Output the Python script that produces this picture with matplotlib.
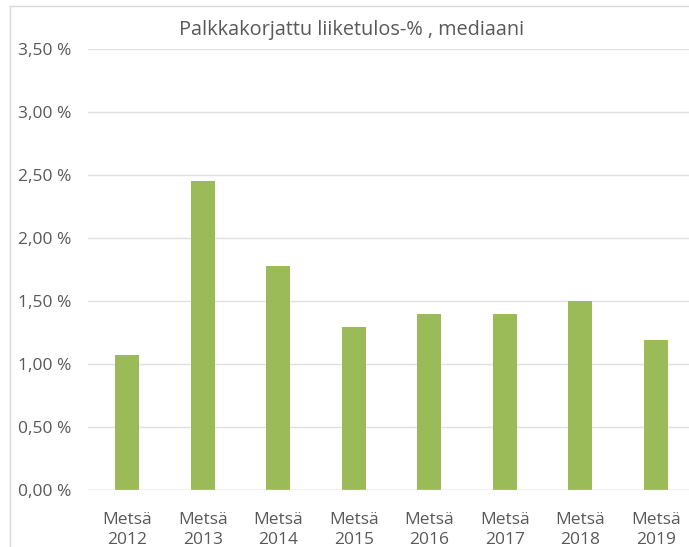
import matplotlib.pyplot as plt
from matplotlib.lines import Line2D
from matplotlib.ticker import FuncFormatter

# Tiedot
categories = ['Metsä\n2012', 'Metsä\n2013', 'Metsä\n2014', 'Metsä\n2015',
              'Metsä\n2016', 'Metsä\n2017', 'Metsä\n2018', 'Metsä\n2019']
values = [1.07, 2.45, 1.78, 1.29, 1.40, 1.40, 1.50, 1.19]
yticks = [0, 0.5, 1.0, 1.5, 2.0, 2.5, 3.0, 3.5]

plt.rcParams['font.family'] = ['Open Sans', 'DejaVu Sans']

fig = plt.figure(figsize=(6.89, 5.47), dpi=100)
ax = fig.add_axes([88 / 689, 1 - 490 / 547, 1 - 88 / 689, (490 - 49) / 547])

x = range(len(values))
ax.bar(x, values, width=0.32, color='#9bbb59', zorder=3)

ax.set_ylim(0, 3.5)
ax.set_xlim(-0.52, 7.44)
ax.set_yticks(yticks)
ax.yaxis.set_major_formatter(FuncFormatter(lambda v, p: f'{v:.2f} %'.replace('.', ',')))
ax.set_xticks(list(x))
ax.set_xticklabels(categories, linespacing=1.35)
ax.tick_params(axis='both', length=0, colors='#595959', labelsize=12.5)
ax.tick_params(axis='y', pad=12)
ax.tick_params(axis='x', pad=16)
ax.grid(axis='y', color='#e0e0e0', linewidth=1, zorder=0)
for s in ax.spines.values():
    s.set_visible(False)
ax.axhline(0, color='#d9d9d9', linewidth=1, zorder=4)

fig.text(352 / 689, 1 - 30 / 547, 'Palkkakorjattu liiketulos-% , mediaani',
         ha='center', va='center', fontsize=14.3, color='#595959')

# Kaavion reunat
fig.add_artist(Line2D([10 / 689, 10 / 689], [0, 1 - 6 / 547], transform=fig.transFigure,
                      color='#d9d9d9', linewidth=1))
fig.add_artist(Line2D([10 / 689, 1], [1 - 6 / 547, 1 - 6 / 547], transform=fig.transFigure,
                      color='#d9d9d9', linewidth=1))

fig.savefig('out.png', dpi=100)
